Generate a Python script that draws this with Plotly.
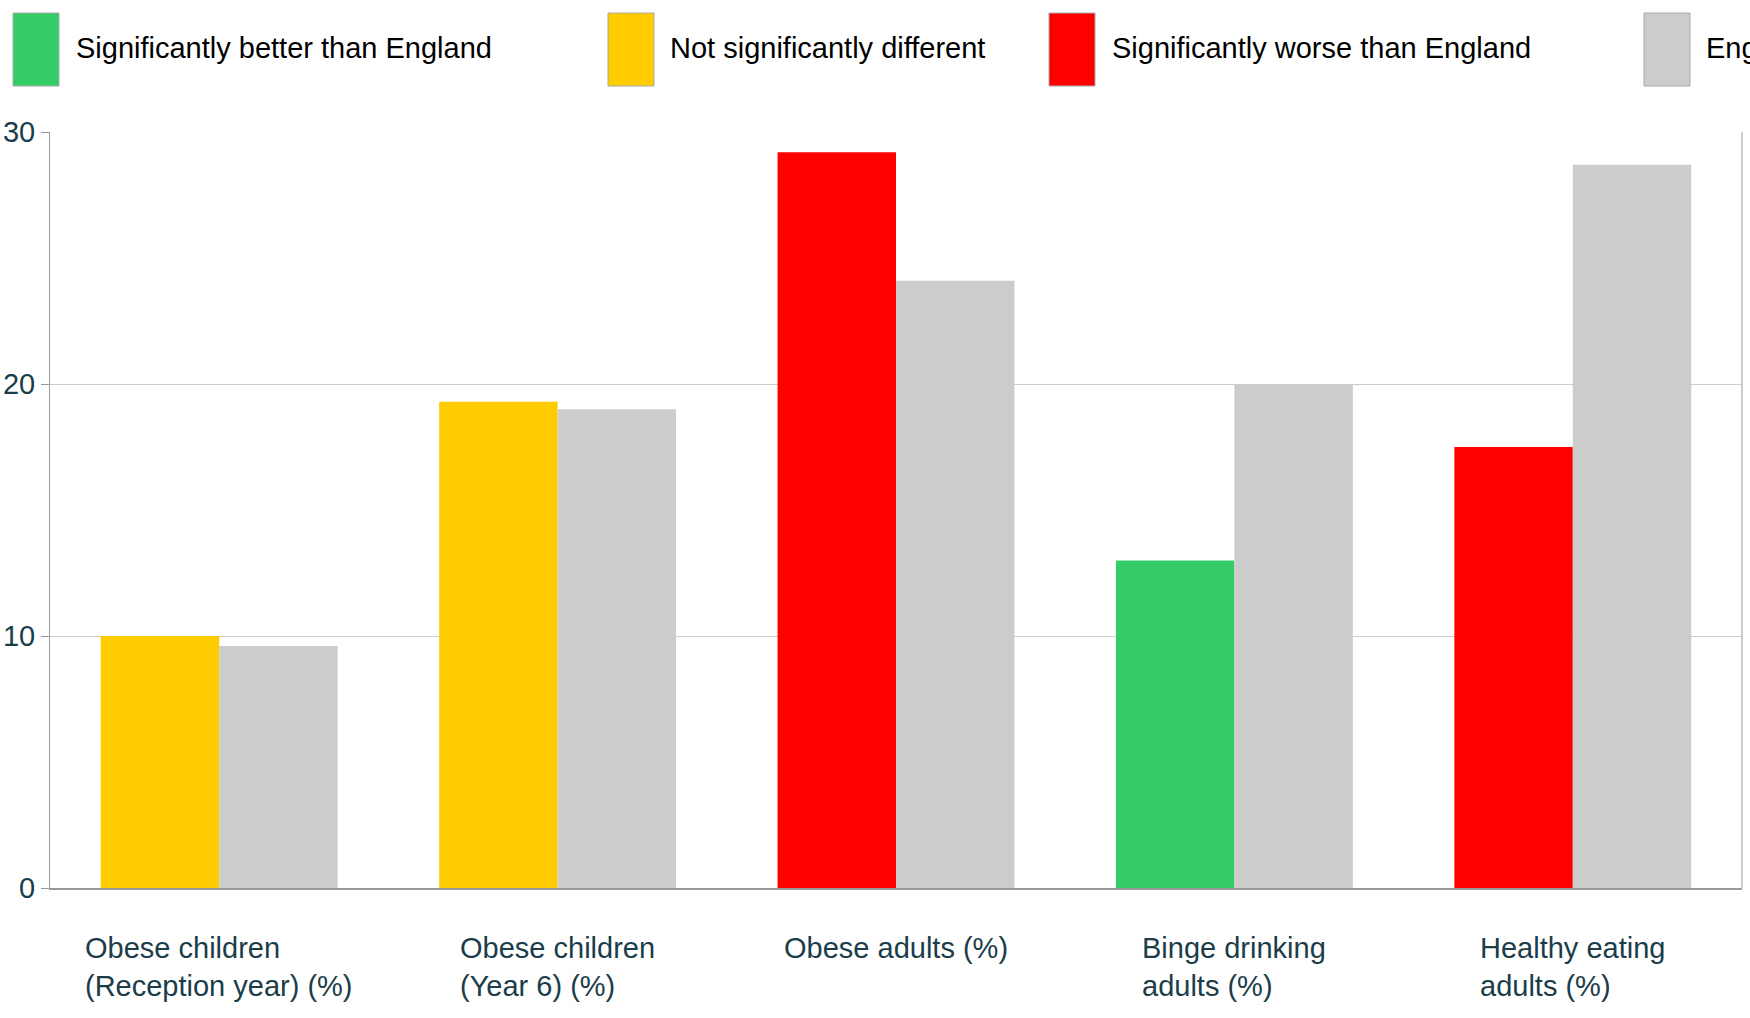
import plotly.graph_objects as go

# ---------------- data ----------------
categories = [
    "Obese children<br>(Reception year) (%)",
    "Obese children<br>(Year 6) (%)",
    "Obese adults (%)",
    "Binge drinking<br>adults (%)",
    "Healthy eating<br>adults (%)",
]
local_values = [10.0, 19.3, 29.2, 13.0, 17.5]
local_status = ["same", "same", "worse", "better", "worse"]
england_values = [9.6, 19.0, 24.1, 20.0, 28.7]
y_ticks = [0, 10, 20, 30]

legend_labels = [
    "Significantly better than England",
    "Not significantly different",
    "Significantly worse than England",
    "England",
]
legend_keys = ["better", "same", "worse", "england"]

# ---------------- styles ----------------
COLORS = {"better": "#33CC66", "same": "#FFCC00", "worse": "#FF0000", "england": "#CCCCCC"}
FONT = "Liberation Sans, Arial, sans-serif"
TEXT_DARK = "#1b3d4a"

W, H = 1750, 1018
L, R, T, B = 50, 1742, 132, 888  # plot area in screen pixels


def px_x(px):
    return (px - L) / (R - L)


def px_y(py):
    return (B - py) / (B - T)


fig = go.Figure()
fig.add_trace(go.Bar(
    x=categories, y=local_values, name="Local",
    marker=dict(color=[COLORS[s] for s in local_status], line=dict(width=0)),
    showlegend=False,
))
fig.add_trace(go.Bar(
    x=categories, y=england_values, name="England",
    marker=dict(color=COLORS["england"], line=dict(width=0)),
    showlegend=False,
))

# custom legend (tall swatches like the reference)
swatch_left = [13, 608, 1049, 1644]
text_left = [74, 668, 1110, 1704]
shapes = []
annotations = []
for key, label, sx, tx in zip(legend_keys, legend_labels, swatch_left, text_left):
    shapes.append(dict(
        type="rect", xref="paper", yref="paper",
        x0=px_x(sx), x1=px_x(sx + 46), y0=px_y(86), y1=px_y(13),
        fillcolor=COLORS[key], line=dict(color="#aaaaaa", width=1),
    ))
    annotations.append(dict(
        text=label, xref="paper", yref="paper",
        x=px_x(tx), y=px_y(48), xanchor="left", yanchor="middle",
        showarrow=False, font=dict(family=FONT, size=29, color="#000000"),
    ))

# right border of plot area
shapes.append(dict(type="line", xref="paper", yref="paper", x0=1, x1=1, y0=0, y1=1,
                   line=dict(color="#cccccc", width=2)))

# category labels: centered block, left-aligned lines
for cat in categories:
    annotations.append(dict(
        text=cat, xref="x", yref="paper", x=cat, y=px_y(930),
        xanchor="center", yanchor="top", align="left", showarrow=False,
        font=dict(family=FONT, size=29, color=TEXT_DARK),
    ))

fig.update_layout(
    width=W, height=H,
    margin=dict(l=L, r=W - R, t=T, b=H - B, pad=0, autoexpand=False),
    paper_bgcolor="white", plot_bgcolor="white",
    barmode="group", bargap=0.3, bargroupgap=0,
    shapes=shapes, annotations=annotations,
    showlegend=False, hovermode=False,
    xaxis=dict(
        showticklabels=False, showline=True, linecolor="#999999", linewidth=2,
        showgrid=False, ticks="", fixedrange=True, automargin=False,
    ),
    yaxis=dict(
        range=[0, 30], tickvals=y_ticks, ticktext=[str(v) for v in y_ticks],
        showline=True, linecolor="#999999", linewidth=1,
        showgrid=True, gridcolor="#cccccc", gridwidth=1,
        ticks="outside", ticklen=8, tickcolor="#999999",
        tickfont=dict(family=FONT, size=29, color=TEXT_DARK),
        zeroline=False, fixedrange=True, automargin=False,
    ),
)

fig.write_html(
    "out.html",
    config={"displayModeBar": False},
    post_script="document.body.style.margin='0px';",
)
